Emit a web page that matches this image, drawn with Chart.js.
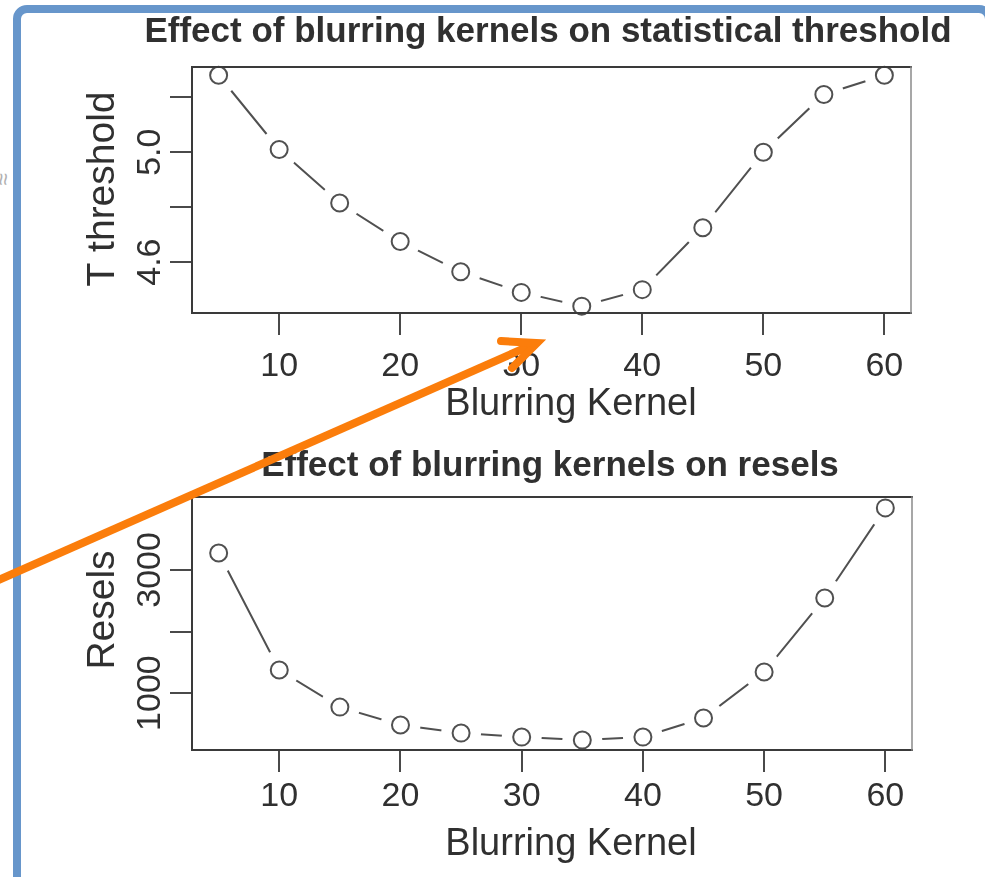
<!DOCTYPE html>
<html>
<head>
<meta charset="utf-8">
<title>Effect of blurring kernels</title>
<script src="https://cdn.jsdelivr.net/npm/chart.js@4.4.1/dist/chart.umd.min.js"></script>
<style>
  html, body { margin: 0; padding: 0; background: #fff; }
  #page { position: relative; width: 985px; height: 877px; overflow: hidden; background: #fff; }
  #frame { position: absolute; left: 13px; top: 5px; width: 980px; height: 940px; box-sizing: border-box;
           border: 8px solid #6796cb; border-radius: 14px; }
  .plot { position: absolute; left: 0; }
  #topPlot { top: 0; }
  #bottomPlot { top: 440px; }
  #arrow { position: absolute; left: 0; top: 0; }
  #mark { position: absolute; left: -3px; top: 166px; font: 22px "Liberation Sans", Arial, sans-serif;
          color: #b0b0b0; transform: rotate(90deg); }
</style>
</head>
<body>
<div id="page">
  <div id="frame"></div>
  <span id="mark">≈</span>
  <canvas class="plot" id="topPlot" width="985" height="440"></canvas>
  <canvas class="plot" id="bottomPlot" width="985" height="437"></canvas>
  <svg id="arrow" width="985" height="877">
    <g stroke="#fb7d0b" stroke-width="8" fill="none">
      <line x1="-6" y1="582" x2="534" y2="344" stroke-linecap="butt"/>
      <polyline points="501,341 537,343 512,368" stroke-linejoin="miter" stroke-linecap="round"/>
    </g>
  </svg>
</div>

<script>
// Blurring kernel sizes (x axis)
const kernel = [5, 10, 15, 20, 25, 30, 35, 40, 45, 50, 55, 60];

// Statistical T threshold per kernel
const tThreshold = [5.28, 5.01, 4.815, 4.675, 4.565, 4.49, 4.44, 4.50, 4.725, 5.00, 5.21, 5.28];

// Resel count per kernel
const resels = [3276, 1374, 772, 480, 350, 285, 236, 285, 594, 1341, 2545, 4008];

// Axis ticks and their printed labels (blank = tick mark only)
const kernelTicks = [10, 20, 30, 40, 50, 60];
const tTicks = [4.6, 4.8, 5.0, 5.2];
const tTickLabels = ['4.6', '', '5.0', ''];
const reselTicks = [1000, 2000, 3000];
const reselTickLabels = ['1000', '', '3000'];

const FONT = '"Liberation Sans", Arial, Helvetica, sans-serif';
const INK = '#303030';
const MARK = '#505050';

// Box, titles and rotated y labels in the style of base R graphics
const rPlotDecor = {
  id: 'rPlotDecor',
  afterDatasetsDraw(chart, args, o) {
    const { ctx, chartArea: a } = chart;
    ctx.save();
    ctx.lineCap = 'square';
    ctx.strokeStyle = '#3a3a3a';
    ctx.lineWidth = 2;
    ctx.beginPath();
    ctx.moveTo(a.right, a.top);
    ctx.lineTo(a.left, a.top);
    ctx.lineTo(a.left, a.bottom);
    ctx.lineTo(a.right, a.bottom);
    ctx.stroke();
    ctx.strokeStyle = '#8a8a8a';
    ctx.lineWidth = 1.5;
    ctx.beginPath();
    ctx.moveTo(a.right, a.top);
    ctx.lineTo(a.right, a.bottom);
    ctx.stroke();
    ctx.restore();
  },
  afterDraw(chart, args, o) {
    const { ctx } = chart;
    const yScale = chart.scales.y;
    ctx.save();
    ctx.fillStyle = INK;
    ctx.textAlign = 'center';
    ctx.textBaseline = 'alphabetic';

    ctx.font = 'bold 35px ' + FONT;
    ctx.fillText(o.title, o.titleX, o.titleY);

    ctx.font = '38px ' + FONT;
    ctx.fillText(o.xTitle, o.xTitleX, o.xTitleY);

    ctx.font = '39px ' + FONT;
    ctx.save();
    ctx.translate(o.yTitleX, o.yTitleY);
    ctx.rotate(-Math.PI / 2);
    ctx.fillText(o.yTitle, 0, 0);
    ctx.restore();

    ctx.font = '34px ' + FONT;
    o.yTicks.forEach((v, i) => {
      const label = o.yTickLabels[i];
      if (!label) return;
      const py = yScale.getPixelForValue(v);
      ctx.save();
      ctx.translate(o.yTickX, py);
      ctx.rotate(-Math.PI / 2);
      ctx.fillText(label, 0, 0);
      ctx.restore();
    });
    ctx.restore();
  }
};

function makePlot(canvas, spec) {
  const pts = kernel.map((k, i) => ({ x: k, y: spec.values[i] }));
  const tickGrid = { drawOnChartArea: false, drawTicks: true, tickLength: 22, color: '#4a4a4a', lineWidth: 2 };
  return new Chart(canvas, {
    type: 'line',
    data: {
      datasets: [
        { // open circles
          data: pts, order: 0, showLine: false, clip: false,
          pointRadius: 8.5, pointBorderWidth: 2, pointBorderColor: MARK,
          pointBackgroundColor: 'rgba(0,0,0,0)'
        },
        { // white halo that opens a gap in the line around each point
          data: pts, order: 1, showLine: false, clip: 0,
          pointRadius: 20, pointBorderWidth: 0, pointBorderColor: 'rgba(0,0,0,0)',
          pointBackgroundColor: '#ffffff'
        },
        { // connecting line
          data: pts, order: 2, pointRadius: 0, borderColor: MARK, borderWidth: 2,
          tension: 0, fill: false
        }
      ]
    },
    options: {
      responsive: false,
      animation: false,
      events: [],
      layout: { padding: spec.padding },
      plugins: {
        legend: { display: false },
        tooltip: { enabled: false },
        title: { display: false },
        rPlotDecor: spec.decor
      },
      scales: {
        x: {
          type: 'linear', min: 2.8, max: 62.2,
          afterBuildTicks: s => { s.ticks = kernelTicks.map(v => ({ value: v })); },
          afterFit: s => { s.height = 100; },
          grid: tickGrid,
          border: { display: false },
          ticks: {
            autoSkip: false, maxRotation: 0, minRotation: 0, padding: spec.xTickPad,
            color: INK, font: { family: FONT, size: 34 },
            callback: v => String(v)
          }
        },
        y: {
          type: 'linear', min: spec.yMin, max: spec.yMax,
          afterBuildTicks: s => { s.ticks = spec.decor.yTicks.map(v => ({ value: v })); },
          afterFit: s => { s.width = 40; },
          grid: tickGrid,
          border: { display: false },
          ticks: { display: false }
        }
      }
    },
    plugins: [rPlotDecor]
  });
}

makePlot(document.getElementById('topPlot'), {
  values: tThreshold,
  yMin: 4.415, yMax: 5.31,
  xTickPad: 11,
  padding: { top: 67, left: 152, right: 74, bottom: 27 },
  decor: {
    title: 'Effect of blurring kernels on statistical threshold',
    titleX: 548, titleY: 42,
    xTitle: 'Blurring Kernel', xTitleX: 571, xTitleY: 415,
    yTitle: 'T threshold', yTitleX: 114, yTitleY: 189,
    yTicks: tTicks, yTickLabels: tTickLabels, yTickX: 160
  }
});

makePlot(document.getElementById('bottomPlot'), {
  values: resels,
  yMin: 75, yMax: 4185,
  xTickPad: 4,
  padding: { top: 57, left: 152, right: 73, bottom: 27 },
  decor: {
    title: 'Effect of blurring kernels on resels',
    titleX: 550, titleY: 36,
    xTitle: 'Blurring Kernel', xTitleX: 571, xTitleY: 415,
    yTitle: 'Resels', yTitleX: 114, yTitleY: 170,
    yTicks: reselTicks, yTickLabels: reselTickLabels, yTickX: 160
  }
});
</script>
</body>
</html>
